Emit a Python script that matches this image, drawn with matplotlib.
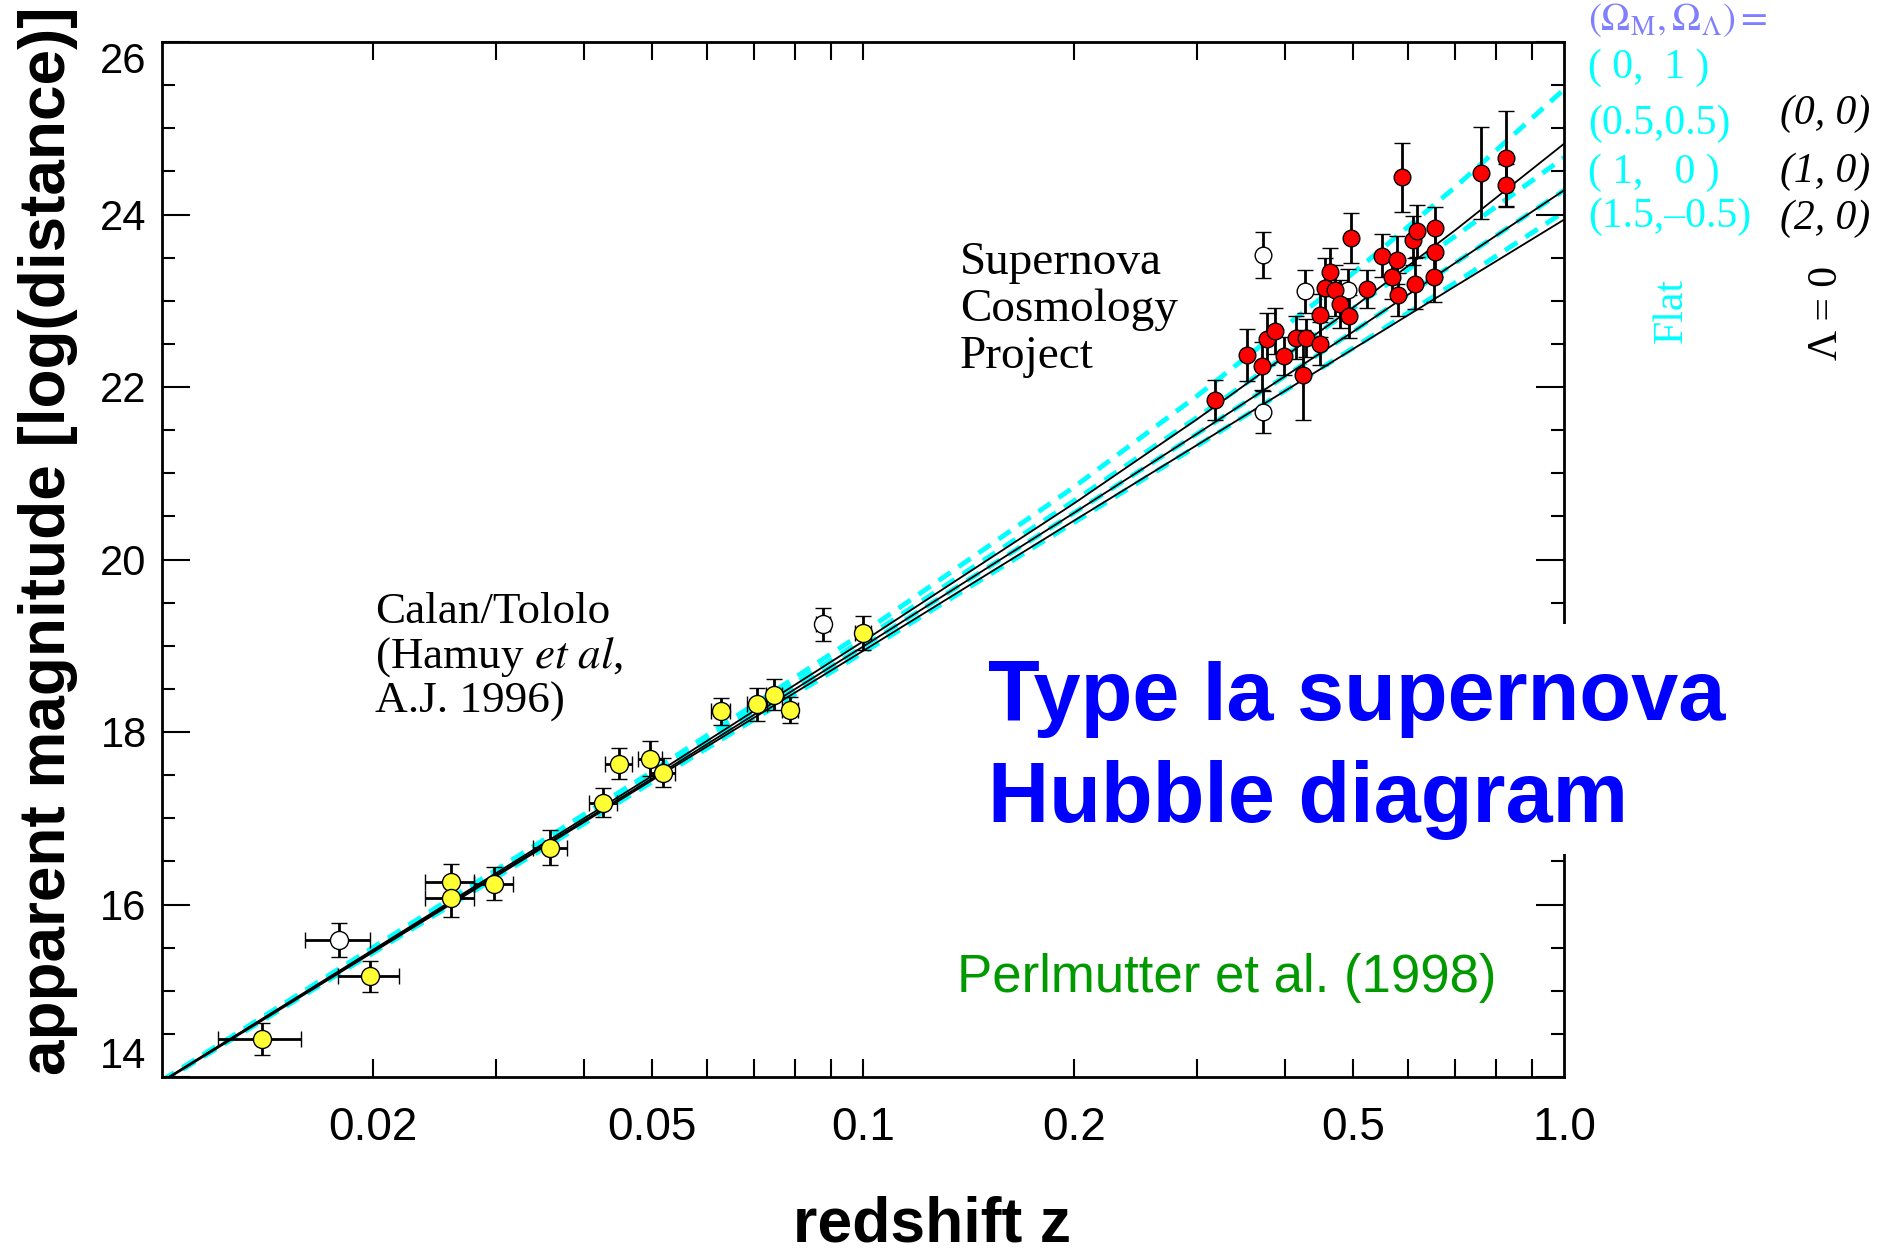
import matplotlib
matplotlib.use('Agg')
import matplotlib.pyplot as plt
from matplotlib.patches import Rectangle
from matplotlib.ticker import FixedLocator, NullLocator

plt.rcParams['font.family'] = ['Liberation Sans', 'DejaVu Sans']
plt.rcParams['mathtext.fontset'] = 'stix'

# model curves, magnitudes
z_model = [0.01, 0.05, 0.1, 0.2, 0.3, 0.5, 0.7, 1.0]
flat_0_1 = [13.96, 17.54, 19.15, 20.84, 21.90, 23.32, 24.32, 25.45]
flat_05_05 = [13.95, 17.50, 19.07, 20.68, 21.65, 22.91, 23.75, 24.66]
flat_1_0 = [13.95, 17.46, 18.99, 20.54, 21.46, 22.64, 23.44, 24.28]
flat_15_m05 = [13.94, 17.42, 18.92, 20.43, 21.32, 22.45, 23.21, 24.03]
open_0_0 = [13.95, 17.49, 19.05, 20.65, 21.63, 22.92, 23.82, 24.82]
open_1_0 = [13.95, 17.46, 18.99, 20.54, 21.46, 22.64, 23.44, 24.28]
open_2_0 = [13.94, 17.44, 18.94, 20.45, 21.33, 22.44, 23.17, 23.94]

# Calan/Tololo supernovae
ct_z = [0.0139, 0.0198, 0.0258, 0.0258, 0.0298, 0.0358, 0.0426, 0.0448,
        0.0497, 0.0518, 0.0627, 0.0707, 0.0747, 0.0787, 0.1001]
ct_m = [14.44, 15.17, 16.26, 16.08, 16.24, 16.66, 17.18, 17.63,
        17.69, 17.53, 18.24, 18.32, 18.43, 18.26, 19.15]
ct_merr = [0.19, 0.18, 0.21, 0.23, 0.19, 0.20, 0.17, 0.18,
           0.20, 0.17, 0.16, 0.19, 0.18, 0.15, 0.20]
ct_zerr = [0.0019, 0.0020, 0.0021, 0.0021, 0.0019, 0.0020, 0.0020, 0.0020,
           0.0019, 0.0021, 0.0020, 0.0023, 0.0020, 0.0021, 0.0027]

# excluded low-z points (open)
ct_open_z = [0.0179, 0.0878]
ct_open_m = [15.59, 19.25]
ct_open_merr = [0.20, 0.19]
ct_open_zerr = [0.0019, 0.0020]

# Supernova Cosmology Project
scp_z = [0.318, 0.353, 0.371, 0.377, 0.387, 0.398, 0.415, 0.429, 0.424, 0.449,
         0.449, 0.456, 0.464, 0.471, 0.479, 0.494, 0.496, 0.523, 0.550, 0.577,
         0.569, 0.580, 0.588, 0.608, 0.617, 0.613, 0.655, 0.655, 0.653, 0.762,
         0.827, 0.827]
scp_m = [21.85, 22.37, 22.24, 22.56, 22.65, 22.36, 22.57, 22.57, 22.14, 22.50,
         22.83, 23.15, 23.33, 23.12, 22.96, 22.82, 23.73, 23.14, 23.52, 23.47,
         23.27, 23.07, 24.43, 23.70, 23.81, 23.20, 23.84, 23.56, 23.27, 24.48,
         24.65, 24.34]
scp_merr = [0.23, 0.30, 0.28, 0.30, 0.27, 0.22, 0.25, 0.22, 0.52, 0.25,
            0.25, 0.35, 0.28, 0.30, 0.28, 0.25, 0.29, 0.22, 0.25, 0.28,
            0.25, 0.25, 0.40, 0.28, 0.30, 0.30, 0.25, 0.28, 0.28, 0.53,
            0.55, 0.25]

scp_open_z = [0.372, 0.372, 0.427, 0.492]
scp_open_m = [23.53, 21.71, 23.11, 23.12]
scp_open_merr = [0.27, 0.24, 0.25, 0.25]

x_ticks = [0.02, 0.03, 0.04, 0.05, 0.06, 0.07, 0.08, 0.09, 0.1,
           0.2, 0.3, 0.4, 0.5, 0.6, 0.7, 0.8, 0.9]
x_labels = ['0.02', '', '', '0.05', '', '', '', '', '0.1',
            '0.2', '', '', '0.5', '', '', '', '']

W, H = 1881, 1251
fig = plt.figure(figsize=(W / 100, H / 100), dpi=100)
ax = fig.add_axes([162 / W, 1 - 1077 / H, (1564 - 162) / W, (1077 - 42) / H])


def fx(px):
    return px / W


def fy(py):
    return 1 - py / H


cyan = '#00FFFF'
for curve in [flat_0_1, flat_05_05, flat_1_0, flat_15_m05]:
    ax.plot(z_model, curve, color=cyan, lw=3.5, dashes=(3, 2), zorder=1)
for curve in [open_0_0, open_1_0, open_2_0]:
    ax.plot(z_model, curve, color='black', lw=1.3, zorder=1.5)

eb = dict(fmt='o', mec='black', mew=1, ecolor='black', elinewidth=2,
          capsize=6, capthick=3, zorder=3)
ax.errorbar(ct_z, ct_m, yerr=ct_merr, xerr=ct_zerr, mfc='#FFFF33', ms=13, **eb)
ax.errorbar(ct_open_z, ct_open_m, yerr=ct_open_merr, xerr=ct_open_zerr,
            mfc='white', ms=13, **eb)
ax.errorbar(scp_open_z, scp_open_m, yerr=scp_open_merr, mfc='white', ms=12, **eb)
ax.errorbar(scp_z, scp_m, yerr=scp_merr, mfc='#FF0000', ms=12, **eb)

ax.set_xscale('log')
ax.set_xlim(0.01, 1.0)
ax.set_ylim(14, 26)

ax.xaxis.set_major_locator(FixedLocator(x_ticks))
ax.xaxis.set_minor_locator(NullLocator())
ax.set_xticklabels(x_labels)
ax.set_xticks([1.0], ['1.0'], minor=True)
ax.tick_params(axis='x', which='minor', length=0, pad=21, labelsize=33)
ax.set_yticks([14, 16, 18, 20, 22, 24, 26])
ax.set_yticks([14.5 + 0.5 * i for i in range(23) if (14.5 + 0.5 * i) % 2 != 0],
              minor=True)
ax.tick_params(axis='x', which='major', direction='in', length=13, width=1.5,
               top=True, pad=21, labelsize=33)
ax.tick_params(axis='y', which='major', direction='in', length=20, width=1.5,
               right=True, pad=11, labelsize=30)
ax.tick_params(axis='y', which='minor', direction='in', length=9.6, width=1.5,
               right=True)
for s in ax.spines.values():
    s.set_linewidth(2)
ylabs = ax.get_yticklabels()
ylabs[0].set_va('bottom')
ylabs[-1].set_va('top')

fig.text(fx(48), fy(541), 'apparent magnitude [log(distance)]', rotation=90,
         ha='center', va='center', fontsize=46, fontweight='bold')
fig.text(fx(932), fy(1225), 'redshift z', ha='center', va='center',
         fontsize=45, fontweight='bold')

# white box behind the title
fig.add_artist(Rectangle((fx(980), fy(854)), 770 / W, 230 / H,
                         transform=fig.transFigure, facecolor='white',
                         edgecolor='none', zorder=2))
fig.text(fx(988), fy(720), 'Type Ia supernova', color='#0000FF', fontsize=61,
         fontweight='bold', va='baseline', zorder=3)
fig.text(fx(988), fy(822), 'Hubble diagram', color='#0000FF', fontsize=61,
         fontweight='bold', va='baseline', zorder=3)
fig.text(fx(957), fy(992), 'Perlmutter et al. (1998)', color='#009900',
         fontsize=38, va='baseline')

serif = ['Liberation Serif', 'DejaVu Serif']
for i, line in enumerate(['Supernova', 'Cosmology', 'Project']):
    fig.text(fx(960), fy(274 + 47 * i), line, family=serif, fontsize=34,
             va='baseline')
for i, line in enumerate(['Calan/Tololo', r'(Hamuy $\mathit{et\ al}$,',
                          'A.J. 1996)']):
    fig.text(fx(375), fy(623 + 45 * i), line, family=serif, fontsize=32.5,
             va='baseline')

fig.text(fx(1588), fy(30), r'$(\Omega_\mathrm{M},\Omega_\Lambda) =$',
         color='#8080FF', fontsize=28, va='baseline')
for txt, yb in zip(['( 0,  1 )', '(0.5,0.5)', '( 1,   0 )', '(1.5,\u20130.5)'],
                   [78, 134, 183, 227]):
    fig.text(fx(1588), fy(yb), txt, family=serif, fontsize=30, color=cyan,
             va='baseline')
for txt, yb in zip(['(0, 0)', '(1, 0)', '(2, 0)'], [124, 182, 229]):
    fig.text(fx(1780), fy(yb), txt, family=serif, fontsize=30, style='italic',
             va='baseline')
fig.text(fx(1672), fy(311), 'Flat', family=serif, fontsize=30, color=cyan,
         rotation=90, ha='center', va='center')
fig.text(fx(1827), fy(313), '\u039b = 0', family=serif, fontsize=30,
         rotation=90, ha='center', va='center')

fig.savefig('out.png', dpi=100)
